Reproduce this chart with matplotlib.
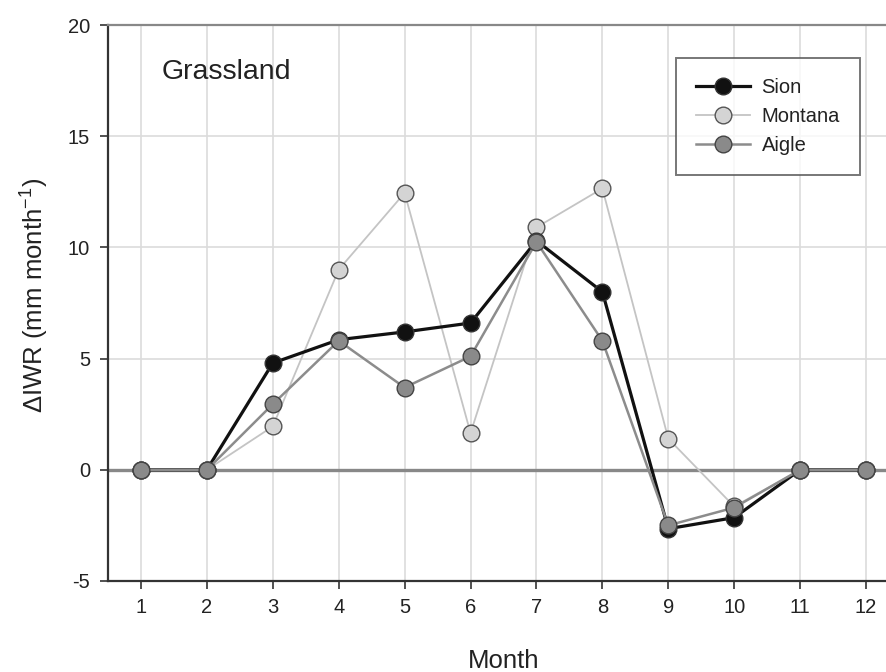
import matplotlib
matplotlib.use("Agg")
import matplotlib.pyplot as plt

months = [1, 2, 3, 4, 5, 6, 7, 8, 9, 10, 11, 12]
sion = [0, 0, 4.8, 5.85, 6.2, 6.6, 10.3, 8.0, -2.65, -2.15, 0, 0]
montana = [0, 0, 1.95, 9.0, 12.45, 1.65, 10.9, 12.65, 1.4, -1.65, 0, 0]
aigle = [0, 0, 2.95, 5.8, 3.7, 5.1, 10.25, 5.8, -2.5, -1.7, 0, 0]
yticks = [-5, 0, 5, 10, 15, 20]

plt.rcParams['font.family'] = ['Liberation Sans', 'DejaVu Sans']
plt.rcParams['axes.unicode_minus'] = False
plt.rcParams['mathtext.fontset'] = 'custom'
plt.rcParams['mathtext.rm'] = 'Liberation Sans'

W, H = 887, 672
fig = plt.figure(figsize=(W/100, H/100), dpi=100)
ax = fig.add_axes([108/W, (H-581)/H, (899-108)/W, (581-25)/H])

ax.set_xlim(0.5, 12.5)
ax.set_ylim(-5, 20)
ax.set_xticks(months)
ax.set_yticks(yticks)
ax.tick_params(axis='both', labelsize=14.5, direction='out', length=6, width=1.2,
               color='#333333', labelcolor='#222222')
ax.tick_params(axis='x', pad=6)
ax.tick_params(axis='y', pad=7)

for m in months:
    ax.axvline(m, color='#dcdcdc', lw=1.2, zorder=0)
for y in [5, 10, 15]:
    ax.axhline(y, color='#dcdcdc', lw=1.2, zorder=0)
ax.axhline(0, color='#888888', lw=2.4, zorder=1)

for s in ['left', 'bottom']:
    ax.spines[s].set_color('#333333')
    ax.spines[s].set_linewidth(1.6)
ax.spines['top'].set_color('#888888')
ax.spines['top'].set_linewidth(1.6)
ax.spines['right'].set_visible(False)

ms = 12
ax.plot(months, montana, color='#c4c4c4', lw=1.3, marker='o', ms=ms,
        mfc='#d4d4d4', mec='#555555', mew=1.0, zorder=3, label='Montana')
ax.plot(months, sion, color='#111111', lw=2.3, marker='o', ms=ms,
        mfc='#111111', mec='#333333', mew=1.0, zorder=4, label='Sion')
ax.plot(months, aigle, color='#8c8c8c', lw=1.8, marker='o', ms=ms,
        mfc='#8a8a8a', mec='#444444', mew=1.0, zorder=5, label='Aigle')

handles, labels = ax.get_legend_handles_labels()
order = [1, 0, 2]
leg = ax.legend([handles[i] for i in order], [labels[i] for i in order],
                loc='upper left', bbox_to_anchor=((676-108)/791, (581-58)/556),
                fontsize=14.5, frameon=True, fancybox=False, borderpad=1.0,
                handlelength=2.65, handletextpad=0.6, labelspacing=0.5,
                borderaxespad=0, markerscale=1.0)
leg.get_frame().set_edgecolor('#555555')
leg.get_frame().set_linewidth(1.4)
leg.set_zorder(10)
for t in leg.get_texts():
    t.set_color('#222222')

fig.text(162/W, 1 - 79/H, 'Grassland', fontsize=20.5, ha='left', va='baseline',
         color='#222222')

fig.text(504/W, 1 - 668/H, 'Month', fontsize=18.5, ha='center', va='baseline',
         color='#222222')
fig.text(34/W, 1 - 295/H, 'ΔIWR (mm month$^{-1}$)', fontsize=18.5, rotation=90,
         ha='center', va='center', color='#222222')

fig.savefig('out.png', dpi=100)
